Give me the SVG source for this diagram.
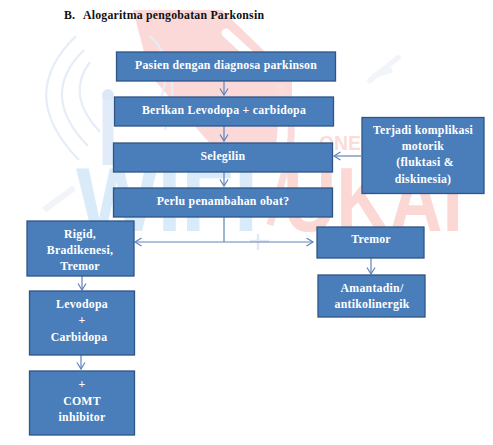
<svg xmlns="http://www.w3.org/2000/svg" width="493" height="445" viewBox="0 0 493 445">
<style>
.b{fill:#4a7ebb;stroke:#2f5588;stroke-width:1.3}
.t{font:bold 11.8px "Liberation Serif","DejaVu Serif",serif;fill:#fff;text-anchor:middle;letter-spacing:.25px}
.h{font:bold 11.8px "Liberation Serif",serif;fill:#111;letter-spacing:.22px}
.c{fill:none;stroke:#5f84bb;stroke-width:1.2}
.w{fill:none;stroke:#e6edf7;stroke-width:2.2}
.m{font-family:"Liberation Sans",sans-serif;font-weight:bold}
</style>
<defs><marker id="a" markerWidth="10" markerHeight="10" refX="7.5" refY="4.5" orient="auto" markerUnits="userSpaceOnUse"><path d="M1 .5L7.5 4.5L1 8.500" fill="none" stroke="#5f84bb" stroke-width="1.2"/></marker></defs>
<rect width="493" height="445" fill="#fff"/>
<g id="watermark">
<path d="M133 10L222 10L292 78L292 96L280 100L275 160L235 172L150 75Z" fill="#fbd9d9"/>
<path d="M226 33L262 66" stroke="#fff" stroke-width="9" stroke-linecap="round" fill="none"/>
<path d="M278 85Q298 110 288 160L270 225" fill="none" stroke="#fbdcdc" stroke-width="7"/>
<path d="M76 36Q15 95 79 160M84 50Q38 95 88 146M90 62Q65 95 100 132" class="w"/>
<path d="M150 36Q185 70 165 130M160 50Q175 80 150 120" class="w"/>
<path d="M368 82L400 56M373 76L392 70" stroke="#f1f4f9" stroke-width="5" fill="none"/>
<path d="M44 210L74 188" stroke="#f1f4f9" stroke-width="6" fill="none"/>
<path d="M108 95V165" stroke="#e2ecf8" stroke-width="11"/>
<circle cx="108" cy="95" r="6" fill="#dce8f7"/>
<text class="m" x="76" y="231" font-size="90" fill="#d9ebf9" textLength="182" lengthAdjust="spacingAndGlyphs">WIFI</text>
<text class="m" x="283" y="231" font-size="90" fill="#fbd8d3" textLength="180" lengthAdjust="spacingAndGlyphs">UKAI</text>
<text class="m" x="319" y="150" font-size="20" fill="#fbdcd8" textLength="42" lengthAdjust="spacingAndGlyphs">ONE</text>
<path d="M258 234V250M250 241H269" stroke="#e2e9f5" stroke-width="2.5"/>
</g>
<text class="h" x="64" y="19">B.</text>
<text class="h" x="83" y="19">Alogaritma pengobatan Parkonsin</text>
<g id="connectors" class="c">
<path d="M224 81V95" marker-end="url(#a)"/>
<path d="M224 126V141" marker-end="url(#a)"/>
<path d="M224 172V186" marker-end="url(#a)"/>
<path d="M361 156H334" marker-end="url(#a)"/>
<path d="M224 217V242"/>
<path d="M224 242H135" marker-end="url(#a)"/>
<path d="M224 242H313" marker-end="url(#a)"/>
<path d="M82 276V290" marker-end="url(#a)"/>
<path d="M81 355V369" marker-end="url(#a)"/>
<path d="M371 258V274" marker-end="url(#a)"/>
</g>
<g id="n1"><rect class="b" x="116.500" y="52" width="219" height="29"/><text class="t" x="226" y="69">Pasien dengan diagnosa parkinson</text></g>
<g id="n2"><rect class="b" x="114.500" y="97" width="219" height="29"/><text class="t" x="224" y="114">Berikan Levodopa + carbidopa</text></g>
<g id="n3"><rect class="b" x="113.500" y="143" width="219" height="29"/><text class="t" x="223" y="160">Selegilin</text></g>
<g id="n4"><rect class="b" x="113.500" y="188" width="219" height="29"/><text class="t" x="223" y="205">Perlu penambahan obat?</text></g>
<g id="n5"><rect class="b" x="362" y="117.500" width="122" height="76"/><text class="t" x="423" y="134">Terjadi komplikasi</text><text class="t" x="423" y="150">motorik</text><text class="t" x="425" y="166">(fluktasi &amp;</text><text class="t" x="423" y="183">diskinesia)</text></g>
<g id="n6"><rect class="b" x="27" y="221" width="107" height="55"/><text class="t" x="80" y="238">Rigid,</text><text class="t" x="80" y="254">Bradikenesi,</text><text class="t" x="80" y="270">Tremor</text></g>
<g id="n7"><rect class="b" x="29.500" y="291" width="105" height="64"/><text class="t" x="82" y="308">Levodopa</text><text class="t" x="82" y="324">+</text><text class="t" x="79" y="341">Carbidopa</text></g>
<g id="n8"><rect class="b" x="29.500" y="371" width="105" height="64"/><text class="t" x="82" y="388">+</text><text class="t" x="82" y="405">COMT</text><text class="t" x="82" y="421">inhibitor</text></g>
<g id="n9"><rect class="b" x="317" y="227" width="107" height="31"/><text class="t" x="371" y="243">Tremor</text></g>
<g id="n10"><rect class="b" x="318" y="275" width="107" height="42"/><text class="t" x="372" y="292">Amantadin/</text><text class="t" x="372" y="308">antikolinergik</text></g>
</svg>
